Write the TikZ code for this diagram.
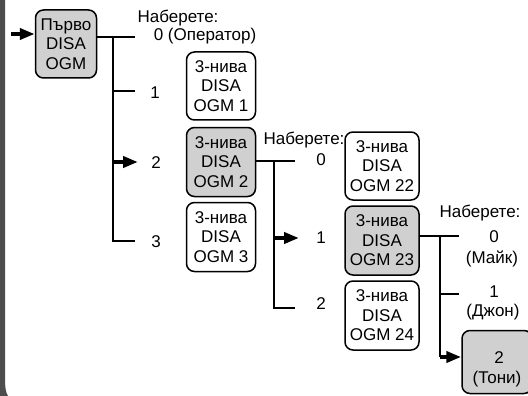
\documentclass[tikz,border=0pt]{standalone}
\usepackage{fontspec}
\setmainfont{Liberation Sans}
\usetikzlibrary{arrows.meta}
\definecolor{boxgray}{RGB}{208,208,208}
\definecolor{bargray}{RGB}{77,77,77}
\begin{document}
\begin{tikzpicture}[x=1pt,y=-1pt,
  menubox/.style={draw, line width=1.5pt, rounded corners=8pt, align=center, inner sep=0pt,
    font=\fontsize{17}{19.5}\selectfont},
  shaded/.style={fill=boxgray},
  tree/.style={line width=1.2pt},
  lbl/.style={font=\fontsize{17}{19.5}\selectfont, inner sep=0pt, anchor=base},
  pointer/.style={line width=4.5pt, -{Triangle[length=15pt,width=11pt]}}
]
\useasboundingbox (0,0) rectangle (528,396);
% left frame bar
\fill[bargray] (0,0) -- (5,0) -- (5,378) .. controls (5,388) and (6,393) .. (8,396) -- (0,396) -- cycle;

% boxes
\node[menubox,shaded,minimum width=61pt,minimum height=68pt] (P) at (66,44) {Първо\\DISA\\OGM};
\node[menubox,minimum width=69pt,minimum height=68pt] (B1) at (221,86) {3-нива\\DISA\\OGM 1};
\node[menubox,shaded,minimum width=69pt,minimum height=69pt] (B2) at (221,162) {3-нива\\DISA\\OGM 2};
\node[menubox,minimum width=69pt,minimum height=69pt] (B3) at (221,237) {3-нива\\DISA\\OGM 3};
\node[menubox,minimum width=74pt,minimum height=68pt] (C22) at (382,166) {3-нива\\DISA\\OGM 22};
\node[menubox,shaded,minimum width=74pt,minimum height=69pt] (C23) at (382,240.5) {3-нива\\DISA\\OGM 23};
\node[menubox,minimum width=74pt,minimum height=69pt] (C24) at (382,315.5) {3-нива\\DISA\\OGM 24};
\node[menubox,shaded,minimum width=70pt,minimum height=63pt] (T) at (497,362) {};
\node[lbl] (T1) at (499,363) {2};
\node[lbl] (T2) at (497,383) {(Тони)};

% entry arrow
\coordinate (in) at (11,34);
\draw[pointer] (in) -- (P.west |- in);

% tree 1
\coordinate (a0) at (135,37);
\coordinate (t0) at (113,37);
\coordinate (t1) at (113,91);
\coordinate (a1) at (135,91);
\coordinate (t2) at (113,162);
\coordinate (a2) at (138,162);
\coordinate (t3) at (113,241);
\coordinate (a3) at (135,241);
\draw[tree] (P.east |- a0) -- (a0);
\draw[tree] (t0) -- (t3) -- (a3);
\draw[tree] (t1) -- (a1);
\draw[pointer] (t2) -- (a2);
\node[lbl] (h1) at (178,23) {Наберете:};
\node[lbl] (o0) at (205,41) {0 (Оператор)};
\node[lbl] (o1) at (155,99) {1};
\node[lbl] (o2) at (156,168) {2};
\node[lbl] (o3) at (156,247) {3};

% tree 2
\coordinate (c0) at (295,161);
\coordinate (d0) at (274,161);
\coordinate (d1) at (274,238);
\coordinate (c1) at (299,238);
\coordinate (d2) at (274,308);
\coordinate (c2) at (295,308);
\draw[tree] (B2.east |- c0) -- (c0);
\draw[tree] (d0) -- (d2) -- (c2);
\draw[pointer] (d1) -- (c1);
\node[lbl] (h2) at (304,144) {Наберете:};
\node[lbl] (p0) at (321,165) {0};
\node[lbl] (p1) at (321,243) {1};
\node[lbl] (p2) at (321,309) {2};

% tree 3
\coordinate (e0) at (459,236);
\coordinate (f0) at (440,236);
\coordinate (f1) at (440,294);
\coordinate (e1) at (459,294);
\coordinate (f2) at (440,357);
\draw[tree] (C23.east |- e0) -- (e0);
\draw[tree] (f0) -- (f2);
\draw[tree] (f1) -- (e1);
\draw[pointer] (f2) -- (T.west |- f2);
\node[lbl] (h3) at (480,217) {Наберете:};
\node[lbl] (q0) at (494,242) {0};
\node[lbl] (q0b) at (492,263) {(Майк)};
\node[lbl] (q1) at (494,297) {1};
\node[lbl] (q1b) at (493,316) {(Джон)};
\end{tikzpicture}
\end{document}
